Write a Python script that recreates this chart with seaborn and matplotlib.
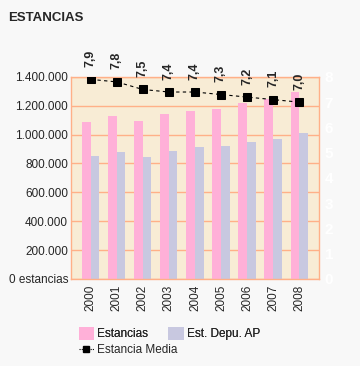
import numpy as np
import pandas as pd
import matplotlib
matplotlib.use("Agg")
import matplotlib.pyplot as plt
import seaborn as sns
from matplotlib.patches import Patch
from matplotlib.lines import Line2D

# Data
years = ["2000", "2001", "2002", "2003", "2004", "2005", "2006", "2007", "2008"]
estancias = [1087000, 1127000, 1092000, 1141000, 1162000, 1176000, 1220000, 1246000, 1297000]
est_depu = [854000, 882000, 842000, 889000, 917000, 924000, 952000, 966000, 1008000]
estancia_media = [7.9, 7.8, 7.5, 7.4, 7.4, 7.3, 7.2, 7.1, 7.0]
media_labels = ["7,9", "7,8", "7,5", "7,4", "7,4", "7,3", "7,2", "7,1", "7,0"]
y_ticks = [0, 200000, 400000, 600000, 800000, 1000000, 1200000, 1400000]
y_ticklabels = ["0 estancias", "200.000", "400.000", "600.000", "800.000",
                "1.000.000", "1.200.000", "1.400.000"]

pink = "#FFB0D8"
lavender = "#C8C8E0"
grid_col = "#FFB088"
bg = "#F8ECD5"

sns.set_style("white")
plt.rcParams["font.family"] = ["Liberation Sans", "DejaVu Sans"]

df = pd.DataFrame({
    "year": years * 2,
    "value": estancias + est_depu,
    "serie": ["Estancias"] * 9 + ["Est. Depu. AP"] * 9,
})

fig = plt.figure(figsize=(3.6, 3.66), dpi=100)
fig.patch.set_facecolor("#F8F8F8")
ax = fig.add_axes([0.197, 0.238, 0.689, 0.552])
ax.set_facecolor(bg)

sns.barplot(data=df, x="year", y="value", hue="serie", palette=[pink, lavender],
            width=0.66, ax=ax, legend=False, saturation=1, linewidth=0, gap=0)
ax.set_ylim(0, 1400000)
ax.set_yticks(y_ticks)
ax.set_yticklabels(y_ticklabels, fontsize=8.5)
ax.yaxis.grid(True, color=grid_col, linewidth=1)
ax.set_axisbelow(True)
ax.set_xlabel("")
ax.set_ylabel("")
ax.tick_params(axis="x", rotation=90, labelsize=8.5, length=0, pad=4)
ax.tick_params(axis="y", length=0, pad=2)
for s in ax.spines.values():
    s.set_color(grid_col)
    s.set_linewidth(1)

ax2 = ax.twinx()
sns.lineplot(x=np.arange(len(years)), y=estancia_media, ax=ax2, color="black",
             linestyle=(0, (3, 3)), linewidth=0.8, marker="s", markersize=6,
             markeredgecolor="black")
ax2.set_ylim(0, 8)
ax2.set_yticks(range(0, 9))
ax2.tick_params(axis="y", length=0, labelcolor="white", labelsize=11, pad=4)
for lab in ax2.get_yticklabels():
    lab.set_fontweight("bold")
ax2.set_ylabel("")
ax2.set_xlim(ax.get_xlim())
for s in ax2.spines.values():
    s.set_visible(False)

for i, (v, t) in enumerate(zip(estancia_media, media_labels)):
    ax2.annotate(t, (i, v), xytext=(0, 9), textcoords="offset points",
                 rotation=90, ha="center", va="bottom", fontsize=9,
                 fontweight="bold", annotation_clip=False)

fig.text(0.022, 0.95, "ESTANCIAS", fontsize=9.5, fontweight="bold", va="center")

# legend: two rows
leg1 = fig.legend([Patch(facecolor=pink, edgecolor="none"),
                   Patch(facecolor=lavender, edgecolor="none")],
                  ["Estancias", "Est. Depu. AP"], ncol=2, loc="upper left",
                  bbox_to_anchor=(0.205, 0.12), frameon=False, fontsize=8.5,
                  handlelength=1.3, handleheight=1.3, handletextpad=0.3,
                  columnspacing=1.7, borderaxespad=0)
fig.legend([Line2D([0], [0], color="black", linestyle=(0, (1, 1)), linewidth=0.8,
                   marker="s", markersize=5)],
           ["Estancia Media"], loc="upper left", bbox_to_anchor=(0.205, 0.073),
           frameon=False, fontsize=8.5, handlelength=1.3, handletextpad=0.3,
           borderaxespad=0)
fig.add_artist(leg1)

fig.savefig("out.png", dpi=100, facecolor=fig.get_facecolor())
